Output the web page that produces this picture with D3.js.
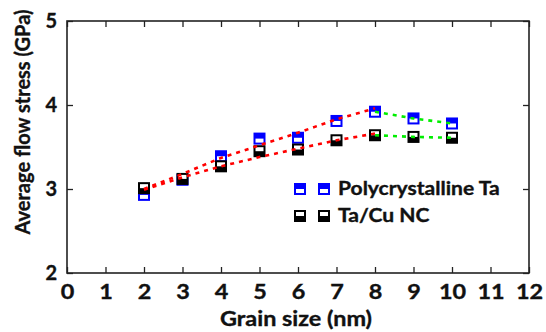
<!DOCTYPE html>
<html>
<head>
<meta charset="utf-8">
<script src="https://cdn.jsdelivr.net/npm/d3@7"></script>
<style>
  body { margin: 0; background: #fff; }
  text { font-family: Lato, "Open Sans", sans-serif; font-weight: bold; fill: #111; stroke: #111; stroke-width: 0.35px; }
</style>
</head>
<body>
<div id="vis"></div>
<script>
// grain size (nm) and average flow stress (GPa)
var grainSize = [2, 3, 4, 5, 6, 7, 8, 9, 10];
var taStress = [2.93, 3.11, 3.39, 3.60, 3.61, 3.81, 3.92, 3.84, 3.78];
var taCuStress = [3.01, 3.12, 3.27, 3.45, 3.47, 3.58, 3.64, 3.62, 3.61];

// red trend lines (2-8 nm)
var fitX = [2, 3, 4, 5, 6, 7, 8];
var fitTa = [3.00, 3.18, 3.37, 3.52, 3.67, 3.83, 3.96];
var fitTaCu = [2.99, 3.14, 3.27, 3.38, 3.48, 3.58, 3.66];

var xTicks = [0, 1, 2, 3, 4, 5, 6, 7, 8, 9, 10, 11, 12];
var yTicks = [2, 3, 4, 5];

var legendNames = ['Polycrystalline Ta', 'Ta/Cu NC'];

var margin = {top: 21, right: 17, bottom: 59, left: 67},
    W = 546, H = 332,
    width = W - margin.left - margin.right,
    height = H - margin.top - margin.bottom;

var x = d3.scaleLinear().domain([0, 12]).range([0, width]);
var y = d3.scaleLinear().domain([2, 5]).range([height, 0]);

var svg = d3.select('#vis').append('svg')
    .attr('width', W)
    .attr('height', H);

var g = svg.append('g')
    .attr('transform', 'translate(' + margin.left + ',' + margin.top + ')');

// the reference text is a little wider than it is tall
var sx = 1.17;

function styleAxis(sel) {
    sel.select('.domain').remove();
    sel.selectAll('line').attr('stroke', '#222').attr('stroke-width', 1.3);
}

// axes, ticks pointing inward on all four sides
g.append('g')
    .attr('transform', 'translate(0,' + height + ')')
    .call(d3.axisBottom(x).tickValues(xTicks).tickSize(-6).tickPadding(12).tickFormat(d3.format('d')))
    .call(styleAxis)
    .selectAll('text')
        .attr('font-size', 20).attr('font-family', 'Lato').attr('font-weight', 'bold').attr('fill', '#111')
        .attr('transform', 'scale(' + sx + ',1)');

g.append('g')
    .call(d3.axisTop(x).tickValues(xTicks).tickSize(-6).tickFormat(''))
    .call(styleAxis);

g.append('g')
    .call(d3.axisLeft(y).tickValues(yTicks).tickSize(-6).tickPadding(10).tickFormat(d3.format('d')))
    .call(styleAxis)
    .selectAll('text')
        .attr('font-size', 20).attr('font-family', 'Lato').attr('font-weight', 'bold').attr('fill', '#111');

g.append('g')
    .attr('transform', 'translate(' + width + ',0)')
    .call(d3.axisRight(y).tickValues(yTicks).tickSize(-6).tickFormat(''))
    .call(styleAxis);

g.append('rect')
    .attr('width', width)
    .attr('height', height)
    .attr('fill', 'none')
    .attr('stroke', '#222')
    .attr('stroke-width', 1.6);

// axis titles
svg.append('text')
    .attr('transform', 'translate(' + (margin.left + x(6) - 2) + ',326) scale(' + sx + ',1)')
    .attr('text-anchor', 'middle')
    .attr('font-size', 20)
    .text('Grain size (nm)');

svg.append('text')
    .attr('transform', 'translate(30,122) rotate(-90)')
    .attr('text-anchor', 'middle')
    .attr('font-size', 20)
    .text('Average flow stress (GPa)');

// half-filled square markers
var ms = 10;
function marker(sel, color, topFill) {
    sel.append('rect')
        .attr('x', -ms / 2).attr('y', -ms / 2)
        .attr('width', ms).attr('height', ms)
        .attr('fill', '#fff')
        .attr('stroke', color)
        .attr('stroke-width', 2);
    sel.append('rect')
        .attr('x', -ms / 2).attr('y', topFill ? -ms / 2 : 0)
        .attr('width', ms).attr('height', ms / 2)
        .attr('fill', color);
}

var series = [
    {name: legendNames[0], values: taStress, color: '#0000ff', topFill: true},
    {name: legendNames[1], values: taCuStress, color: '#000000', topFill: false}
];

series.forEach(function(s) {
    g.append('g').selectAll('g')
        .data(grainSize.map(function(d, i) { return [d, s.values[i]]; }))
        .enter()
        .append('g')
            .attr('transform', function(d) { return 'translate(' + x(d[0]) + ',' + y(d[1]) + ')'; })
            .each(function() { marker(d3.select(this), s.color, s.topFill); });
});

// dotted trend lines
var line = d3.line()
    .x(function(d) { return x(d[0]); })
    .y(function(d) { return y(d[1]); });

[fitTa, fitTaCu].forEach(function(f) {
    g.append('path')
        .attr('d', line(fitX.map(function(d, i) { return [d, f[i]]; })))
        .attr('fill', 'none')
        .attr('stroke', '#ff0000')
        .attr('stroke-width', 2.6)
        .attr('stroke-dasharray', '4,5');
});

[taStress, taCuStress].forEach(function(v) {
    var pts = grainSize.map(function(d, i) { return [d, v[i]]; }).filter(function(p) { return p[0] >= 8; });
    g.append('path')
        .attr('d', line(pts))
        .attr('fill', 'none')
        .attr('stroke', '#00ee00')
        .attr('stroke-width', 2.6)
        .attr('stroke-dasharray', '4,5');
});

// legend: two markers per entry
var legend = svg.append('g');
series.forEach(function(s, i) {
    var ly = 189 + i * 27;
    [300, 324].forEach(function(lx) {
        var m = legend.append('g').attr('transform', 'translate(' + lx + ',' + ly + ')');
        marker(m, s.color, s.topFill);
    });
    legend.append('text')
        .attr('transform', 'translate(338,' + ly + ') scale(' + sx + ',1)')
        .attr('dy', '0.35em')
        .attr('font-size', 18)
        .text(s.name);
});
</script>
</body>
</html>
